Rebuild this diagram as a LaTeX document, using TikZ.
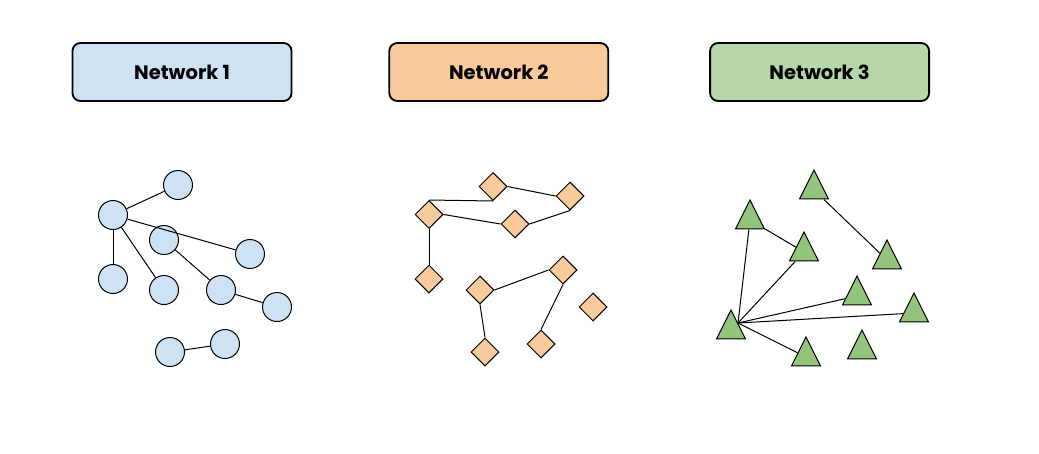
\documentclass[tikz,border=0pt]{standalone}
\usepackage{fontspec}
\newfontfamily\headfont{Poppins}
\usepackage{tikz}
\usetikzlibrary{graphs, positioning, shapes.geometric}
\usepackage{xcolor}
\definecolor{netblue}{HTML}{CFE2F3}
\definecolor{netorange}{HTML}{F9CB9C}
\definecolor{netgreen}{HTML}{B6D7A8}
\definecolor{trigreen}{HTML}{93C47D}

\begin{document}
\begin{tikzpicture}[x=1pt, y=-1pt, node distance=15pt, line width=1pt,
		header/.style={draw, line width=1.8pt, rounded corners=8pt, minimum width=219pt, minimum height=58pt, font=\headfont\bfseries\fontsize{19.5}{22}\selectfont},
		roundnode/.style={draw, circle, fill=netblue, minimum size=29pt, inner sep=0pt},
		kite/.style={draw, diamond, fill=netorange, minimum size=28pt, inner sep=0pt},
		peak/.style={draw, isosceles triangle, isosceles triangle stretches, shape border rotate=90, fill=trigreen, minimum width=29pt, minimum height=29pt, inner sep=0pt}]
		\useasboundingbox (0,0) rectangle (1039,453);
		
		% headers
		\node[header, fill=netblue]                        (net1)  at (182,72) {Network 1};
		\node[header, fill=netorange, right=96pt of net1]  (net2)  {Network 2};
		\node[header, fill=netgreen, right=100pt of net2]  (net3)  {Network 3};
		
		% network 1
		\node[roundnode] (c1)  at (113,215) {};
		\node[roundnode] (c2)  at (178,185) {};
		\node[roundnode] (c3)  at (164,240) {};
		\node[roundnode] (c4)  at (250,254) {};
		\node[roundnode] (c5)  at (113,279) {};
		\node[roundnode] (c6)  at (164,290) {};
		\node[roundnode] (c7)  at (221,290) {};
		\node[roundnode] (c8)  at (277,307) {};
		\node[roundnode] (c9)  at (170,352) {};
		\node[roundnode] (c10) at (225,344) {};
		
		\graph{
			(c1) -- {
				(c2),(c4),(c5),(c6)
			};
			(c3) -- (c7) -- (c8);
			(c9) -- (c10);
		};
		
		% network 2
		\node[kite] (d1)  at (493,186.5) {};
		\node[kite] (d2)  at (570,196) {};
		\node[kite] (d3)  at (429,214.5) {};
		\node[kite] (d4)  at (515,224) {};
		\node[kite] (d5)  at (429,279) {};
		\node[kite] (d6)  at (563,270) {};
		\node[kite] (d7)  at (480,290) {};
		\node[kite] (d8)  at (593,307) {};
		\node[kite] (d9)  at (485,352) {};
		\node[kite] (d10) at (541,344) {};
		
		\draw (d3.north) -- (d1.south);
		\draw (d1.east) -- (d2.west);
		\draw (d3.east) -- (d4.west);
		\draw (d4.east) -- (d2.south);
		\draw (d3.south) -- (d5.north);
		\draw (d7.east) -- (d6.west);
		\draw (d7.south) -- (d9.north);
		\draw (d6.south) -- (d10.north);
		
		% network 3
		\node[peak] (t1) at (814,190) {};
		\node[peak] (t2) at (750,220) {};
		\node[peak] (t3) at (804,252) {};
		\node[peak] (t4) at (887,260) {};
		\node[peak] (t5) at (857,296) {};
		\node[peak] (t6) at (914,313) {};
		\node[peak] (t7) at (731,330) {};
		\node[peak] (t8) at (806,357) {};
		\node[peak] (t9) at (862,350) {};
		\coordinate (hub) at (738,323);
		
		\graph{
			(hub) -- {
				(t2),(t3),(t5),(t6),(t8)
			};
			(t1) -- (t4);
			(t2) -- (t3);
		};
	\end{tikzpicture}
\end{document}
